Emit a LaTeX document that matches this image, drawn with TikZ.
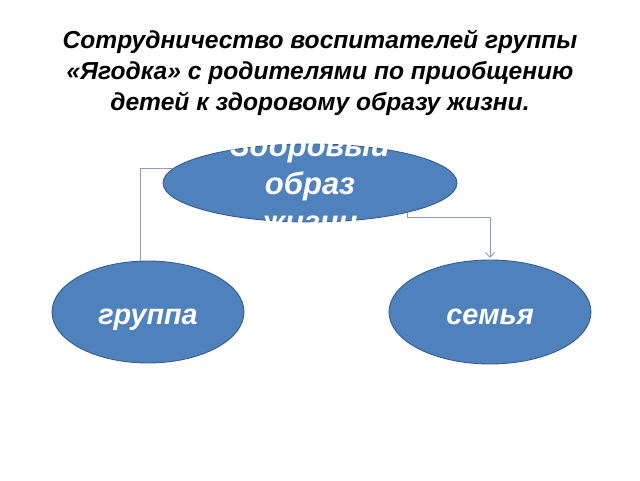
\documentclass[tikz,border=0pt]{standalone}
\usepackage{fontspec}
\setmainfont{Liberation Sans}
\usetikzlibrary{arrows.meta,shapes.geometric}

\definecolor{ovalfill}{HTML}{4F81BD}
\definecolor{ovaledge}{HTML}{385D8A}
\definecolor{linkgray}{HTML}{8E9CB2}

\begin{document}
\begin{tikzpicture}[x=1pt,y=1pt,
  oval/.style={ellipse, draw=ovaledge, line width=0.9pt, fill=ovalfill, inner sep=0pt},
  ovaltext/.style={text=white, font=\bfseries\itshape\fontsize{28.8}{34}\selectfont, text height=24pt, text depth=0pt},
  link/.style={draw=linkgray, line width=0.9pt}]

\useasboundingbox (0,0) rectangle (640,480);

\node[align=center, font=\bfseries\itshape\fontsize{24.6}{31}\selectfont] (title) at (320,407)
  {Сотрудничество воспитателей группы\\«Ягодка» с родителями по приобщению\\детей к здоровому образу жизни.};

\node[oval, minimum width=294, minimum height=78] (health) at (310,297) {};
\node[align=center, text=white, font=\bfseries\itshape\fontsize{31}{38}\selectfont] (healthtext) at (310,297)
  {Здоровый\\образ\\жизни};

\node[oval, ovaltext, minimum width=192, minimum height=102] (gruppa) at (148,168) {группа};
\node[oval, ovaltext, minimum width=202, minimum height=104] (semya) at (490,168) {семья};

\draw[link] (health.174) -| (gruppa.98);
\draw[link, -{Straight Barb[length=5pt,width=9pt]}, shorten >=1.5pt] (health.-17) -- ++(0,-5) -| (semya.north);

\end{tikzpicture}
\end{document}
